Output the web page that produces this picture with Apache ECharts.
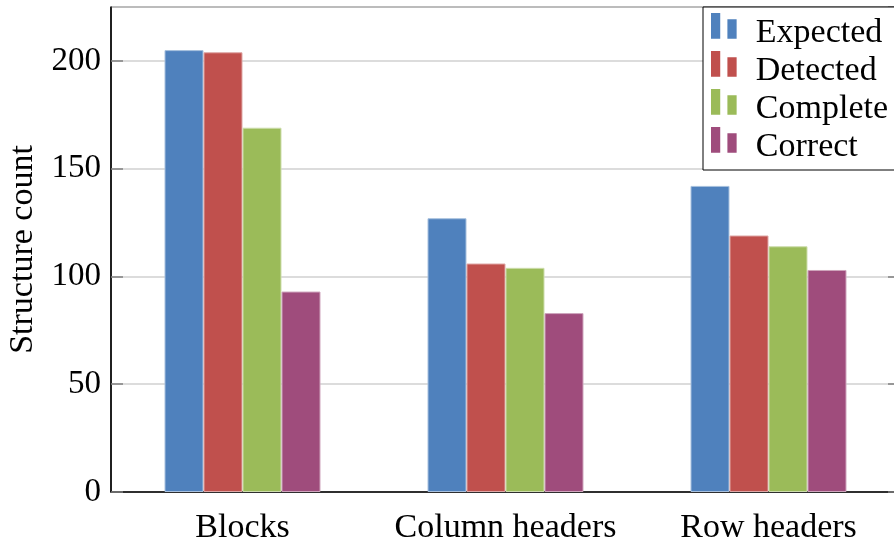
<!DOCTYPE html>
<html><head><meta charset="utf-8">
<script src="https://cdn.jsdelivr.net/npm/echarts@6/dist/echarts.min.js"></script>
<style>html,body{margin:0;padding:0;background:#fff}#c{width:894px;height:545px}</style>
</head><body><div id="c"></div>
<script>
const categories = ['Blocks', 'Column headers', 'Row headers'];
const seriesNames = ['Expected', 'Detected', 'Complete', 'Correct'];
const expected = [205, 127, 142];
const detected = [204, 106, 119];
const complete = [169, 104, 114];
const correct = [93, 83, 103];
const yTicks = [0, 50, 100, 150, 200];

const colors = ['#4F81BD', '#C0504D', '#9BBB59', '#9F4C7C'];
const borders = ['#A7C0DE', '#DFA7A6', '#CDDDAC', '#CFA5BD'];
const values = [expected, detected, complete, correct];
const font = 'Liberation Serif';
const icon = 'path://M0,0H9V25H0Z M16,6H25V25H16Z M0,39H0.01V39.01H0Z';

const chart = echarts.init(document.getElementById('c'), null, {renderer: 'canvas'});
chart.setOption({
  animation: false,
  textStyle: {fontFamily: font},
  grid: {left: 111, right: -6, top: 7, bottom: 53, show: true, borderColor: '#000', borderWidth: 1,
    containLabel: false, outerBoundsMode: 'none'},
  legend: {
    data: seriesNames.map((n, i) => ({name: n, icon: icon, itemStyle: {color: colors[i], borderWidth: 0}})),
    orient: 'vertical', left: 703, top: 7,
    itemWidth: 26, itemHeight: 40, itemGap: -2,
    padding: [6, 8, 3, 8],
    borderColor: '#000', borderWidth: 1, backgroundColor: '#fff',
    textStyle: {fontFamily: font, fontSize: 34, lineHeight: 24, color: '#000', padding: [0, 0, 0, 14]}
  },
  xAxis: {
    type: 'category', data: categories,
    axisLine: {lineStyle: {color: '#000', width: 1.5}},
    axisTick: {show: false},
    axisLabel: {fontFamily: font, fontSize: 34, color: '#000', margin: 19, interval: 0}
  },
  yAxis: [{
    type: 'value', min: 0, max: 225, interval: 50,
    name: 'Structure count', nameLocation: 'middle', nameGap: 71,
    nameTextStyle: {fontFamily: font, fontSize: 34, color: '#000'},
    axisLine: {show: true, lineStyle: {color: '#000', width: 1.5}},
    axisTick: {show: true, inside: true, length: 12, lineStyle: {color: '#808080', width: 1.5}},
    axisLabel: {fontFamily: font, fontSize: 33, color: '#000', margin: 10, showMaxLabel: false,
      formatter: v => yTicks.includes(v) ? String(v) : ''},
    splitLine: {show: true, lineStyle: {color: '#d0d0d0', width: 1.5}}
  }, {
    type: 'value', min: 0, max: 225, interval: 50, position: 'right',
    axisLine: {show: false},
    axisTick: {show: true, inside: true, length: 12, lineStyle: {color: '#808080', width: 1.5}},
    axisLabel: {show: false}, splitLine: {show: false}
  }],
  series: seriesNames.map((n, i) => ({
    name: n, type: 'bar', data: values[i], yAxisIndex: 0,
    barWidth: 39, barGap: '0%',
    itemStyle: {color: colors[i], borderColor: borders[i], borderWidth: 1}
  }))
});
</script></body></html>
